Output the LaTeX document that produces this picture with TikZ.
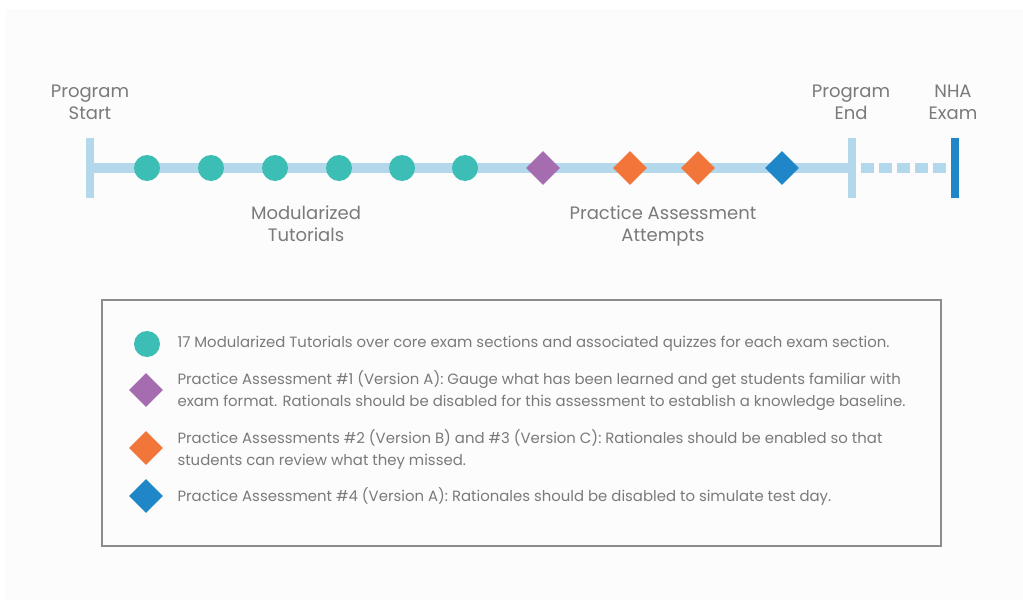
\documentclass[tikz,border=0pt]{standalone}
\usepackage{fontspec}
\setmainfont{Poppins}
\usepackage{tikz}
\usetikzlibrary{positioning}
\usetikzlibrary{shapes.geometric}

\definecolor{bgcol}{HTML}{FCFCFC}
\definecolor{txtcol}{HTML}{7A7A7A}
\definecolor{linecol}{HTML}{B3D8EB}
\definecolor{tealcol}{HTML}{3CBDB6}
\definecolor{purplecol}{HTML}{A56DB0}
\definecolor{orangecol}{HTML}{F2763A}
\definecolor{bluecol}{HTML}{1F86C8}
\definecolor{boxcol}{HTML}{8C8C8C}

\tikzset{
    tick/.style={rectangle, fill=#1, minimum width=8pt, minimum height=60pt, inner sep=0pt},
    tut/.style={circle, fill=tealcol, minimum size=26pt, inner sep=0pt},
    pa/.style={diamond, fill=#1, minimum size=34pt, inner sep=0pt},
    timeline/.style={linecol, line width=10pt},
    lbl/.style={text=txtcol, align=center, font=\fontsize{18}{22}\selectfont},
    legtext/.style={text=txtcol, align=left, anchor=west, font=\fontsize{14.9}{22}\selectfont}
}

\begin{document}
\begin{tikzpicture}[x=1pt, y=-1pt]
    \useasboundingbox (0,0) rectangle (1023,605);
    \fill[bgcol] (5,9) rectangle (1023,600);

    % timeline ends
    \node[tick=linecol] (start) at (90,168) {};
    \node[tick=linecol] (progend) at (852,168) {};
    \node[tick=bluecol] (exam) at (955,168) {};
    \draw[timeline] (start.center) -- (progend.center);
    \draw[timeline, dash pattern=on 13pt off 5pt, dash phase=13pt] (progend.east) -- (exam.west);

    \node[lbl] (startlbl) at (90,102) {Program\\Start};
    \node[lbl] (endlbl) at (851,102) {Program\\End};
    \node[lbl] (examlbl) at (953,102) {NHA\\Exam};

    % tutorials and assessments
    \foreach \x [count=\i] in {147,211,275,339,402,465}
        \node[tut] (t\i) at (\x,168) {};
    \node[pa=purplecol] (pa1) at (543,168) {};
    \node[pa=orangecol] (pa2) at (630,168) {};
    \node[pa=orangecol] (pa3) at (698,168) {};
    \node[pa=bluecol] (pa4) at (782,168) {};

    \node[lbl] (tutlbl) at (306,224) {Modularized\\Tutorials};
    \node[lbl] (palbl) at (663,226) {Practice Assessment\\Attempts};

    % legend
    \node[draw=boxcol, line width=2pt, minimum width=839pt, minimum height=246pt,
          inner sep=0pt] (legend) at (521.5,423) {};
    \node[tut] (keytut) at (147,344) {};
    \node[pa=purplecol] (keypa1) at (146,390) {};
    \node[pa=orangecol] (keypa2) at (146,448) {};
    \node[pa=bluecol] (keypa4) at (146,496) {};
    \node[legtext] (keytuttxt) at (174,344) {17 Modularized Tutorials over core exam sections and associated quizzes for each exam section.};
    \node[legtext] (keypa1txt) at (174,391) {Practice Assessment \#1 (Version A): Gauge what has been learned and get students familiar with\\exam format. Rationals should be disabled for this assessment to establish a knowledge baseline.};
    \node[legtext] (keypa2txt) at (174,449) {Practice Assessments \#2 (Version B) and \#3 (Version C): Rationales should be enabled so that\\students can review what they missed.};
    \node[legtext] (keypa4txt) at (174,496) {Practice Assessment \#4 (Version A): Rationales should be disabled to simulate test day.};
\end{tikzpicture}
\end{document}
